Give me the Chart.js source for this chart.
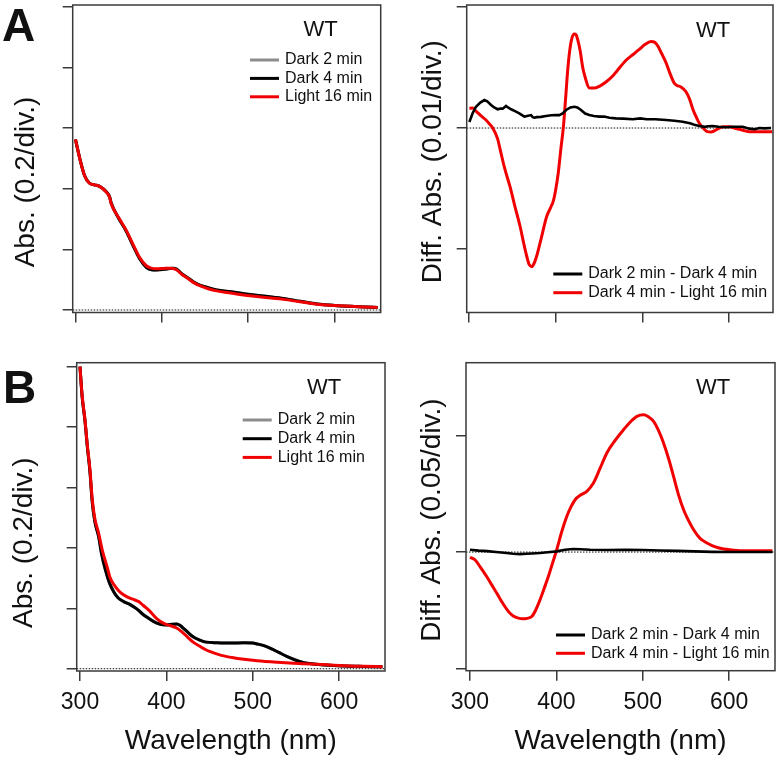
<!DOCTYPE html>
<html>
<head>
<meta charset="utf-8">
<title>WT absorbance spectra</title>
<script src="https://cdn.jsdelivr.net/npm/chart.js@4.4.1/dist/chart.umd.min.js"></script>
<style>
  html, body { margin: 0; padding: 0; background: #fff; }
  #figure { position: relative; width: 779px; height: 764px; overflow: hidden; }
  #figure canvas { position: absolute; }
</style>
</head>
<body>
<div id="figure">
  <canvas id="panel-a-abs" width="390" height="340" style="left:0;top:0"></canvas>
  <canvas id="panel-a-diff" width="389" height="340" style="left:390px;top:0"></canvas>
  <canvas id="panel-b-abs" width="390" height="424" style="left:0;top:340px"></canvas>
  <canvas id="panel-b-diff" width="389" height="424" style="left:390px;top:340px"></canvas>
</div>
<script>
// ---- tick positions ----
const wavelengthTicks = [300, 400, 500, 600];
const absTicks = [0, 0.2, 0.4, 0.6, 0.8, 1.0];
const diffTicksA = [-0.01, 0, 0.01];
const diffTicksB = [-0.05, 0, 0.05];

// ---- panel A, absorbance (0.2/div) ----
const aAbsWl = [300, 305, 310.5, 316, 322, 328, 335.7, 339.5, 341.5, 350, 359, 367, 374.4, 382, 388, 394,
  402, 409, 413, 417, 423, 428.7, 436, 444, 453, 463.6, 480, 502, 520, 541, 560, 580, 600, 618.6, 635, 650];
const aAbsDark4 = [0.563, 0.50, 0.444, 0.419, 0.413, 0.408, 0.390, 0.374, 0.352, 0.303, 0.259, 0.211, 0.169, 0.141, 0.133, 0.132,
  0.134, 0.137, 0.138, 0.135, 0.120, 0.109, 0.094, 0.082, 0.074, 0.066, 0.060, 0.051, 0.045, 0.038, 0.029, 0.020, 0.015, 0.012, 0.010, 0.008];
const aAbsLight16 = [0.563, 0.50, 0.444, 0.419, 0.413, 0.408, 0.389, 0.372, 0.350, 0.305, 0.262, 0.215, 0.173, 0.146, 0.138, 0.136,
  0.137, 0.138, 0.137, 0.133, 0.118, 0.107, 0.092, 0.080, 0.071, 0.063, 0.056, 0.047, 0.041, 0.035, 0.027, 0.019, 0.015, 0.012, 0.010, 0.008];
// Dark 2 min lies underneath Dark 4 min at this scale
const aAbsDark2 = aAbsDark4;

// ---- panel A, difference (0.01/div) ----
const aDiffDarkWl = [300.4, 304, 308, 313, 317.7, 321, 325.4, 329, 333, 336, 338.9, 342.7, 345, 348.5, 353, 358, 363.8, 367,
  371.5, 373.5, 375.4, 378, 383, 388.8, 395, 400, 404.2, 408, 412, 417, 421.5, 425, 429.2, 434, 438.8, 444, 450.4, 456,
  462, 469.6, 478, 488.9, 497.5, 505, 515, 527.3, 537, 546.6, 555, 560, 565.8, 572, 576, 581.2, 588, 596.5, 604, 609,
  615.8, 623.4, 630, 635, 641, 648.5];
const aDiffDark = [0.0005, 0.0012, 0.00176, 0.0021, 0.00231, 0.0022, 0.0019, 0.0017, 0.00155, 0.0016, 0.0016, 0.00182, 0.0017,
  0.00155, 0.0014, 0.00121, 0.00094, 0.001, 0.00107, 0.0009, 0.00085, 0.0009, 0.00092, 0.001, 0.00105, 0.00108, 0.00107,
  0.0012, 0.00149, 0.0017, 0.00176, 0.0017, 0.00149, 0.0012, 0.00107, 0.001, 0.00094, 0.00095, 0.00085, 0.0008, 0.00078,
  0.00072, 0.0008, 0.00072, 0.00072, 0.00066, 0.0006, 0.00052, 0.00039, 0.00028, 0.00017, 0.0001, 0.00015, 0.00017,
  0.0001, 0.00006, 0.0001, 0.0001, 0.0001, -0.00005, -0.0001, 0.0, -0.00003, 0.0];
const aDiffLightWl = [300.4, 304, 308, 314, 319.6, 324, 327.3, 333, 336, 341, 347.3, 353, 359, 363, 366.6, 369.5, 372.4, 375,
  378, 383, 389.7, 394, 397.4, 400, 403, 406, 408.9, 411.5, 413.9, 416, 418.6, 421.5, 423.6, 425.4, 428.2, 431.2, 434,
  438.8, 444, 450.4, 458, 465.8, 470.5, 481.2, 489.7, 496.5, 503, 510, 514, 517.7, 522, 527.3, 532, 536.9, 540, 544.6,
  550.4, 555, 558.1, 562.9, 565.8, 571.5, 575, 579.2, 584, 588.8, 594, 600.3, 606, 611.9, 617, 623.4, 635, 650];
const aDiffLight = [0.00163, 0.00165, 0.0014, 0.0010, 0.00066, 0.0003, 0.0, -0.0009, -0.0018, -0.0033, -0.00485, -0.0065,
  -0.00816, -0.0095, -0.0106, -0.0113, -0.01146, -0.0112, -0.0106, -0.0092, -0.0073, -0.0066, -0.0060, -0.0051, -0.0037,
  -0.0017, 0.0001, 0.0025, 0.0048, 0.0063, 0.0074, 0.00777, 0.0077, 0.0073, 0.0064, 0.0050, 0.0042, 0.0033, 0.0033,
  0.00345, 0.0038, 0.0043, 0.0047, 0.0056, 0.0061, 0.0065, 0.0069, 0.00715, 0.0071, 0.0068, 0.0062, 0.0054, 0.0045,
  0.0037, 0.00352, 0.0034, 0.0030, 0.0023, 0.0016, 0.0008, 0.0004, -0.0001, -0.0003, -0.00033, -0.0002, 0.0, 0.0001,
  0.0001, 0.0, -0.0001, -0.0002, -0.0003, -0.0003, -0.0003];

// ---- panel B, absorbance (0.2/div) ----
const bAbsDarkWl = [300, 302.5, 305.8, 308.5, 311.6, 313.9, 317, 321.6, 325, 329.4, 334, 339, 344, 350.6, 358, 365.7, 372,
  377.3, 385.4, 392, 400.8, 407, 412, 416, 420, 424, 431.3, 439.4, 446, 458.7, 475, 489.7, 500, 505.1, 512, 520.5, 530,
  539.9, 550, 559.2, 570, 582.4, 593.5, 605.5, 628, 650];
const bAbsDark4 = [1.0, 0.90, 0.82, 0.735, 0.65, 0.56, 0.49, 0.437, 0.38, 0.327, 0.285, 0.255, 0.235, 0.222, 0.212, 0.198,
  0.182, 0.171, 0.156, 0.148, 0.145, 0.147, 0.148, 0.143, 0.133, 0.1225, 0.105, 0.094, 0.088, 0.086, 0.085, 0.086, 0.085,
  0.082, 0.077, 0.0675, 0.054, 0.040, 0.028, 0.020, 0.0155, 0.0123, 0.011, 0.009, 0.0075, 0.0066];
const bAbsDark2 = bAbsDark4;
const bAbsLightWl = [300, 302.5, 305.8, 308.5, 311.6, 313.9, 317, 321.6, 326, 331.3, 335, 340.9, 347, 354.5, 361, 368, 373,
  379.6, 388.8, 397, 404, 412.4, 418, 424, 431, 439.4, 450, 462.6, 476, 489.7, 505, 528.3, 547, 566.9, 586, 605.5, 628, 650];
const bAbsLight16 = [1.0, 0.905, 0.824, 0.74, 0.658, 0.57, 0.50, 0.448, 0.39, 0.338, 0.30, 0.272, 0.252, 0.238, 0.230, 0.222,
  0.21, 0.194, 0.166, 0.150, 0.143, 0.134, 0.122, 0.106, 0.088, 0.073, 0.057, 0.045, 0.037, 0.031, 0.026, 0.021, 0.018,
  0.0156, 0.013, 0.010, 0.008, 0.0066];

// ---- panel B, difference (0.05/div) ----
const bDiffDarkWl = [300, 310, 320, 330, 342.5, 350, 357.9, 365, 372, 381, 390, 400.4, 410, 419.7, 428, 439, 460, 480, 500,
  520, 540, 560, 580, 600, 625, 650];
const bDiffDark = [0.001, 0.0006, 0.0004, 0.0, -0.0004, -0.0007, -0.0009, -0.0007, -0.0006, -0.0004, -0.0001, 0.0003, 0.001,
  0.0013, 0.0012, 0.001, 0.0009, 0.001, 0.0009, 0.0007, 0.0005, 0.0003, 0.0001, 0.0, 0.0, 0.0];
const bDiffLightWl = [300, 305.8, 312, 319.3, 325, 330.9, 337, 344.4, 350, 355, 361.8, 366, 371.5, 376, 381.1, 386, 390.7,
  395.5, 400.4, 406, 412, 417, 421.7, 428, 435.2, 442.9, 450, 458.4, 468, 477.7, 485, 493.2, 500.9, 506, 512.5, 518, 524,
  530, 535.6, 541, 547.2, 553, 558.8, 566, 574.3, 584, 593.6, 603, 612.9, 630, 650];
const bDiffLight = [-0.0023, -0.0033, -0.0065, -0.0105, -0.014, -0.0176, -0.0215, -0.0255, -0.0275, -0.0283, -0.0287, -0.0285,
  -0.0277, -0.025, -0.0205, -0.0155, -0.0105, -0.0048, 0.001, 0.0085, 0.0153, 0.0195, 0.0225, 0.0245, 0.0261, 0.0297,
  0.0355, 0.0426, 0.0480, 0.0526, 0.0557, 0.0583, 0.059, 0.0583, 0.0562, 0.0524, 0.0469, 0.040, 0.0325, 0.025, 0.0182,
  0.0135, 0.0096, 0.006, 0.0039, 0.0022, 0.0013, 0.0009, 0.0006, 0.0006, 0.0006];

// ---- styling ----
const FONT = "'Liberation Sans', Arial, Helvetica, sans-serif";
const AXIS_COLOR = '#3a3a3a';
const TEXT_COLOR = '#111111';
const RED = '#f00000';
const BLACK = '#000000';
const GRAY = '#8c8c8c';

/**
 * Frame, dotted zero line, panel letter, rotated y title and in-plot legend
 */
const panelDecor = {
  id: 'panelDecor',
  beforeDatasetsDraw(chart) {
    const { ctx, chartArea: a, scales } = chart;
    const y0 = scales.y.getPixelForValue(0);
    ctx.save();
    ctx.strokeStyle = '#111';
    ctx.lineWidth = 1;
    ctx.setLineDash([1.5, 1.5]);
    ctx.beginPath();
    ctx.moveTo(a.left, y0);
    ctx.lineTo(a.right, y0);
    ctx.stroke();
    ctx.restore();
  },
  afterDraw(chart, args, opts) {
    const { ctx, chartArea: a } = chart;
    ctx.save();

    ctx.strokeStyle = AXIS_COLOR;
    ctx.lineWidth = 1.5;
    ctx.strokeRect(a.left, a.top, a.right - a.left, a.bottom - a.top);

    ctx.fillStyle = TEXT_COLOR;
    if (opts.letter) {
      ctx.font = `bold 46px ${FONT}`;
      ctx.textAlign = 'left';
      ctx.textBaseline = 'alphabetic';
      ctx.fillText(opts.letter, opts.letterX, opts.letterY);
    }

    // y axis title
    ctx.save();
    ctx.translate(opts.yTitleX, opts.yTitleY);
    ctx.rotate(-Math.PI / 2);
    ctx.font = `28px ${FONT}`;
    ctx.textAlign = 'center';
    ctx.textBaseline = 'middle';
    ctx.fillText(opts.yTitle, 0, 0);
    ctx.restore();

    // strain label
    ctx.font = `22px ${FONT}`;
    ctx.textAlign = 'center';
    ctx.textBaseline = 'middle';
    ctx.fillText(opts.strain, opts.strainX, opts.strainY);

    // legend rows, in dataset order
    ctx.font = `16px ${FONT}`;
    ctx.textAlign = 'left';
    chart.data.datasets.forEach((ds, i) => {
      const y = opts.legendY + i * opts.legendGap;
      ctx.strokeStyle = ds.borderColor;
      ctx.lineWidth = 3;
      ctx.beginPath();
      ctx.moveTo(opts.legendX, y);
      ctx.lineTo(opts.legendX + 29, y);
      ctx.stroke();
      ctx.fillStyle = TEXT_COLOR;
      ctx.fillText(ds.label, opts.legendX + 35, y);
    });

    ctx.restore();
  }
};

function makeSeries(label, xs, ys, color, width, order, smooth) {
  return {
    label: label,
    data: xs.map((x, i) => ({ x: x, y: ys[i] })),
    borderColor: color,
    backgroundColor: color,
    borderWidth: width,
    pointRadius: 0,
    fill: false,
    order: order,
    cubicInterpolationMode: smooth ? 'monotone' : 'default',
    tension: 0
  };
}

function buildPanel(canvasId, cfg) {
  const tickGrid = {
    drawOnChartArea: false,
    drawTicks: true,
    tickLength: 10,
    color: AXIS_COLOR,
    lineWidth: 1.5
  };
  return new Chart(document.getElementById(canvasId), {
    type: 'line',
    data: { datasets: cfg.datasets },
    options: {
      responsive: false,
      animation: false,
      events: [],
      layout: { padding: cfg.padding },
      plugins: {
        legend: { display: false },
        tooltip: { enabled: false },
        panelDecor: cfg.decor
      },
      scales: {
        x: {
          type: 'linear',
          min: cfg.xMin,
          max: cfg.xMax,
          afterBuildTicks: s => { s.ticks = wavelengthTicks.map(v => ({ value: v })); },
          afterFit: s => { s.height = cfg.xAxisHeight; },
          grid: tickGrid,
          border: { display: false },
          ticks: {
            display: cfg.showXLabels,
            maxRotation: 0,
            autoSkip: false,
            padding: 8,
            color: TEXT_COLOR,
            font: { family: FONT, size: 23 }
          },
          title: {
            display: cfg.showXLabels,
            text: 'Wavelength (nm)',
            color: TEXT_COLOR,
            font: { family: FONT, size: 28 },
            padding: { top: 0, bottom: 6 }
          }
        },
        y: {
          type: 'linear',
          min: cfg.yMin,
          max: cfg.yMax,
          afterBuildTicks: s => { s.ticks = cfg.yTicks.map(v => ({ value: v })); },
          afterFit: s => { s.width = 40; },
          grid: tickGrid,
          border: { display: false },
          ticks: { display: false }
        }
      }
    },
    plugins: [panelDecor]
  });
}

function initFigure() {
  // A, absorbance
  buildPanel('panel-a-abs', {
    datasets: [
      makeSeries('Dark 2 min', aAbsWl, aAbsDark2, GRAY, 3, 2, true),
      makeSeries('Dark 4 min', aAbsWl, aAbsDark4, BLACK, 3, 1, true),
      makeSeries('Light 16 min', aAbsWl, aAbsLight16, RED, 3, 0, true)
    ],
    padding: { left: 32.7, top: 5, right: 9.3, bottom: 7.5 },
    xAxisHeight: 20, showXLabels: false,
    xMin: 296.8, xMax: 653.6, yMin: -0.0083, yMax: 1.0066, yTicks: absTicks,
    decor: {
      letter: 'A', letterX: 2, letterY: 41,
      yTitle: 'Abs. (0.2/div.)', yTitleX: 26, yTitleY: 182,
      strain: 'WT', strainX: 320.5, strainY: 30,
      legendX: 250, legendY: 60, legendGap: 18.4
    }
  });

  // A, difference
  buildPanel('panel-a-diff', {
    datasets: [
      makeSeries('Dark 2 min - Dark 4 min', aDiffDarkWl, aDiffDark, BLACK, 2.6, 0, false),
      makeSeries('Dark 4 min - Light 16 min', aDiffLightWl, aDiffLight, RED, 3, 1, true)
    ],
    padding: { left: 36.7, top: 5, right: 6, bottom: 7.5 },
    xAxisHeight: 20, showXLabels: false,
    xMin: 297.3, xMax: 650.8, yMin: -0.01525, yMax: 0.01017, yTicks: diffTicksA,
    decor: {
      yTitle: 'Diff. Abs. (0.01/div.)', yTitleX: 42.8, yTitleY: 161.7,
      strain: 'WT', strainX: 323, strainY: 31,
      legendX: 163.3, legendY: 274, legendGap: 18.7
    }
  });

  // B, absorbance
  buildPanel('panel-b-abs', {
    datasets: [
      makeSeries('Dark 2 min', bAbsDarkWl, bAbsDark2, GRAY, 3, 2, true),
      makeSeries('Dark 4 min', bAbsDarkWl, bAbsDark4, BLACK, 3, 1, true),
      makeSeries('Light 16 min', bAbsLightWl, bAbsLight16, RED, 3, 0, true)
    ],
    padding: { left: 36.7, top: 22.7, right: 5, bottom: 0 },
    xAxisHeight: 93, showXLabels: true,
    xMin: 296.2, xMax: 653, yMin: -0.0076, yMax: 1.013, yTicks: absTicks,
    decor: {
      letter: 'B', letterX: 3, letterY: 63,
      yTitle: 'Abs. (0.2/div.)', yTitleX: 24.5, yTitleY: 202.7,
      strain: 'WT', strainX: 324, strainY: 48.3,
      legendX: 242.7, legendY: 80, legendGap: 18.7
    }
  });

  // B, difference
  buildPanel('panel-b-diff', {
    datasets: [
      makeSeries('Dark 2 min - Dark 4 min', bDiffDarkWl, bDiffDark, BLACK, 2.6, 0, false),
      makeSeries('Dark 4 min - Light 16 min', bDiffLightWl, bDiffLight, RED, 3, 1, true)
    ],
    padding: { left: 36, top: 22.7, right: 4, bottom: 0 },
    xAxisHeight: 93.3, showXLabels: true,
    xMin: 295.4, xMax: 653, yMin: -0.051, yMax: 0.0814, yTicks: diffTicksB,
    decor: {
      yTitle: 'Diff. Abs. (0.05/div.)', yTitleX: 42.5, yTitleY: 180,
      strain: 'WT', strainX: 323, strainY: 48.3,
      legendX: 166, legendY: 295, legendGap: 18.3
    }
  });
}

if (document.readyState === 'loading') {
  document.addEventListener('DOMContentLoaded', initFigure);
} else {
  initFigure();
}
</script>
</body>
</html>
